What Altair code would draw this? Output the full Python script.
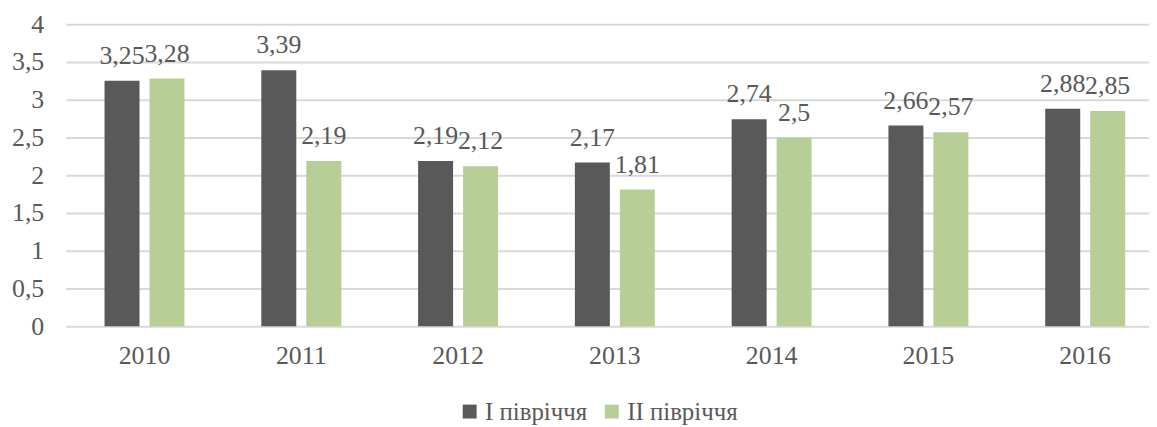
import altair as alt
import pandas as pd

years = ["2010", "2011", "2012", "2013", "2014", "2015", "2016"]
series_names = ["I півріччя", "II півріччя"]
first_half = [3.25, 3.39, 2.19, 2.17, 2.74, 2.66, 2.88]
second_half = [3.28, 2.19, 2.12, 1.81, 2.5, 2.57, 2.85]
colors = ["#595959", "#B7CF96"]
y_ticks = [0, 0.5, 1, 1.5, 2, 2.5, 3, 3.5, 4]

rows = []
for y, a, b in zip(years, first_half, second_half):
    rows.append({"year": y, "series": series_names[0], "value": a})
    rows.append({"year": y, "series": series_names[1], "value": b})
df = pd.DataFrame(rows)
df["label"] = df["value"].map(lambda v: f"{v:g}".replace(".", ","))

FONT = "Liberation Serif"
TXT = "#595959"

x_scale = alt.Scale(paddingInner=0.49, paddingOuter=0.2, align=0.62, round=False)
x_enc = alt.X("year:N", sort=years, title=None, scale=x_scale,
              axis=alt.Axis(labelAngle=0, domain=False, ticks=False, labelPadding=16,
                            labelFontSize=26, labelColor=TXT, labelFont=FONT))
xo_enc = alt.XOffset("series:N", sort=series_names,
                     scale=alt.Scale(paddingInner=0.222, paddingOuter=0))
y_enc = alt.Y("value:Q", title=None,
              scale=alt.Scale(domain=[0, 4]),
              axis=alt.Axis(values=y_ticks, format="~g", labelOverlap=False,
                            labelExpr="replace(datum.label, '.', ',')",
                            domain=False, ticks=False, labelPadding=22,
                            gridColor="#D9D9D9", gridWidth=2,
                            labelFontSize=26, labelColor=TXT, labelFont=FONT))

base = alt.Chart(df)

bars = base.mark_bar().encode(
    x=x_enc,
    xOffset=xo_enc,
    y=y_enc,
    color=alt.Color("series:N", sort=series_names,
                    scale=alt.Scale(domain=series_names, range=colors),
                    legend=alt.Legend(title=None, orient="none", legendX=394, legendY=377,
                                      direction="horizontal", symbolType="square",
                                      symbolSize=196, symbolStrokeWidth=0,
                                      labelFontSize=25, labelColor=TXT, labelFont=FONT,
                                      labelOffset=3, columnPadding=12, padding=0)),
)

labels = base.mark_text(baseline="alphabetic", dy=-17, fontSize=26, font=FONT, color=TXT).encode(
    x=x_enc,
    xOffset=xo_enc,
    y=y_enc,
    text="label:N",
)

chart = alt.layer(bars, labels).properties(
    width=1090, height=304,
    autosize=alt.AutoSizeParams(type="none"),
    padding={"left": 58, "top": 15, "right": 0, "bottom": 100},
).configure_view(stroke=None)

chart.save("out.html", embed_options={"renderer": "svg", "actions": False})
